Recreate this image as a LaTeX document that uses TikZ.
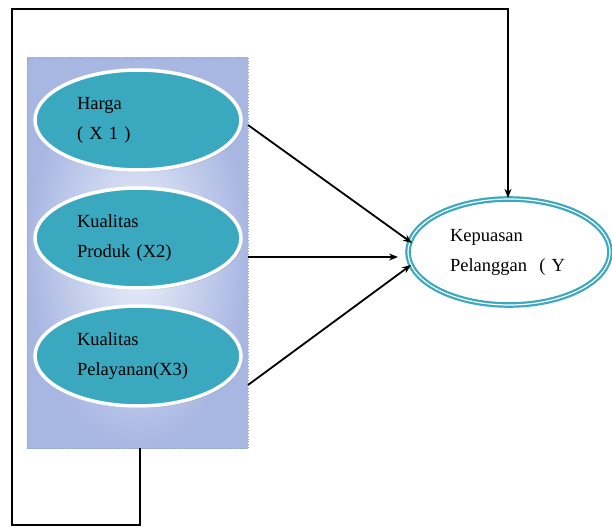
\documentclass[tikz,border=0pt]{standalone}
\usepackage{fontspec}
\setmainfont{Liberation Serif}
\usetikzlibrary{arrows.meta,shadows,shapes.geometric}
\definecolor{tealfill}{RGB}{58,168,190}
\definecolor{panelout}{RGB}{168,182,226}
\definecolor{panelin}{RGB}{236,241,250}
\definecolor{paneledge}{RGB}{140,160,205}
\begin{document}
\begin{tikzpicture}[x=1pt,y=-1pt,
  panel/.style={rectangle, minimum width=221pt, minimum height=390pt, inner sep=0pt,
    shading=radial, inner color=panelin, outer color=panelout, draw=paneledge, dotted, line width=0.8pt},
  xnode/.style={ellipse, minimum width=206pt, minimum height=100pt, fill=tealfill, draw=white,
    line width=3.5pt, drop shadow={shadow xshift=1.5pt, shadow yshift=-2pt, opacity=0.3},
    text width=122pt, align=left, font=\fontsize{18.5}{30}\selectfont, inner sep=0pt},
  ynode/.style={ellipse, minimum width=202pt, minimum height=106pt, fill=white, draw=tealfill,
    double=white, double distance=1.2pt, line width=2.2pt,
    text width=118pt, align=left, font=\fontsize{18.5}{30}\selectfont, inner sep=0pt},
  link/.style={-{Stealth[length=9pt,width=7pt]}, line width=1.8pt, black}]
\useasboundingbox (0,0) rectangle (612,529);
\node[panel] (box) at (137.5,253) {};
\node[xnode] (x1) at (138,120) {Harga\\( X 1 )};
\node[xnode] (x2) at (138,238) {Kualitas\\Produk (X2)};
\node[xnode] (x3) at (138,356) {Kualitas\\Pelayanan(X3)};
\node[ynode] (y) at (509,252) {Kepuasan\\Pelanggan\ \ ( Y};
\coordinate (a1) at (248,125);
\coordinate (a2) at (248,257);
\coordinate (a3) at (248,385);
\coordinate (t1) at (412,243);
\coordinate (t2) at (398,257);
\coordinate (t3) at (411,265);
\draw[link] (a1) -- (t1);
\draw[link] (a2) -- (t2);
\draw[link] (a3) -- (t3);
\coordinate (lb) at (140,525);
\coordinate (lt) at (12,9);
\coordinate (ytop) at ([xshift=-1pt]y.north);
\draw[link] (box.south -| lb) -- (lb) -| (lt) -| (ytop);
\end{tikzpicture}
\end{document}
